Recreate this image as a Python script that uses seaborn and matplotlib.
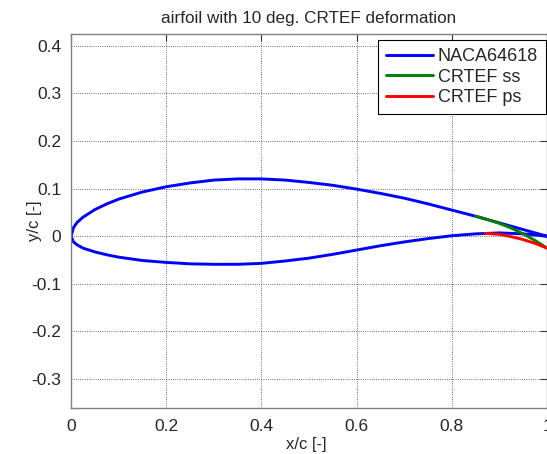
import numpy as np
import pandas as pd
import matplotlib
matplotlib.use('Agg')
import matplotlib.pyplot as plt
import seaborn as sns

# NACA64618 contour
x_up = [1.0, 0.95, 0.9, 0.85, 0.8, 0.75, 0.7, 0.65, 0.6, 0.55, 0.5, 0.45, 0.4,
        0.35, 0.3, 0.25, 0.2, 0.15, 0.1, 0.075, 0.05, 0.025, 0.0125, 0.005, 0.0]
y_up = [0.0, 0.014, 0.028, 0.042, 0.055, 0.068, 0.080, 0.090, 0.099, 0.107,
        0.113, 0.118, 0.1205, 0.1205, 0.118, 0.112, 0.104, 0.093, 0.078, 0.068,
        0.056, 0.040, 0.029, 0.018, 0.0]
x_lo = [0.0, 0.005, 0.0125, 0.025, 0.05, 0.075, 0.1, 0.15, 0.2, 0.25, 0.3, 0.35,
        0.4, 0.45, 0.5, 0.55, 0.6, 0.65, 0.7, 0.75, 0.8, 0.85, 0.9, 0.95, 1.0]
y_lo = [0.0, -0.012, -0.018, -0.025, -0.033, -0.039, -0.044, -0.051, -0.055,
        -0.058, -0.059, -0.059, -0.057, -0.052, -0.046, -0.038, -0.029, -0.020,
        -0.012, -0.005, 0.001, 0.005, 0.007, 0.005, 0.0]

# deflected flap (CRTEF) suction and pressure side
x_ss = [0.85, 0.875, 0.9, 0.925, 0.95, 0.975, 1.0]
y_ss = [0.042, 0.035, 0.027, 0.017, 0.005, -0.009, -0.025]
x_ps = [0.87, 0.9, 0.925, 0.95, 0.975, 1.0]
y_ps = [0.006, 0.004, -0.001, -0.007, -0.015, -0.025]

names = ['NACA64618', 'CRTEF ss', 'CRTEF ps']
colors = ['#0000ff', '#008000', '#ff0000']

df = pd.concat([
    pd.DataFrame({'x': x_up + x_lo[1:], 'y': y_up + y_lo[1:], 'curve': names[0]}),
    pd.DataFrame({'x': x_ss, 'y': y_ss, 'curve': names[1]}),
    pd.DataFrame({'x': x_ps, 'y': y_ps, 'curve': names[2]}),
], ignore_index=True)

sns.set_style('white')
plt.rcParams['font.family'] = ['Liberation Sans', 'DejaVu Sans']

fig = plt.figure(figsize=(5.47, 4.54), dpi=100)
ax = fig.add_axes([0.13, 0.1013, 0.87, 0.8238])

sns.lineplot(data=df, x='x', y='y', hue='curve', palette=dict(zip(names, colors)),
             sort=False, estimator=None, linewidth=2.1, ax=ax)

ax.set_xlim(0, 1)
ax.set_ylim(-0.361, 0.425)
xt = [0, 0.2, 0.4, 0.6, 0.8, 1]
yt = [-0.3, -0.2, -0.1, 0, 0.1, 0.2, 0.3, 0.4]
ax.set_xticks(xt)
ax.set_xticklabels([f'{v:g}' for v in xt])
ax.set_yticks(yt)
ax.set_yticklabels([f'{v:g}' for v in yt])
ax.tick_params(direction='in', top=True, right=True, length=5, color='#333333',
               labelsize=12.5)
ax.tick_params(axis='x', pad=8)
ax.tick_params(axis='y', pad=7)
for s in ax.spines.values():
    s.set_color('#808080')
    s.set_linewidth(1)
ax.grid(True, linestyle=':', color='#404040', linewidth=0.6)

ax.set_title('airfoil with 10 deg. CRTEF deformation', fontsize=12.3, pad=8)
ax.set_xlabel('x/c [-]', fontsize=12, va='top')
ax.set_ylabel('y/c [-]', fontsize=12)
ax.xaxis.set_label_coords(0.495, -0.078)
ax.yaxis.set_label_coords(-0.062, 0.5)

leg = ax.legend(loc='upper right', bbox_to_anchor=(0.998, 0.984), fontsize=13,
                frameon=True, fancybox=False, edgecolor='black', framealpha=1,
                borderaxespad=0, borderpad=0.45, handlelength=2.6,
                handletextpad=0.25, labelspacing=0.2)
leg.get_frame().set_linewidth(0.8)

fig.savefig('out.png', dpi=100)
